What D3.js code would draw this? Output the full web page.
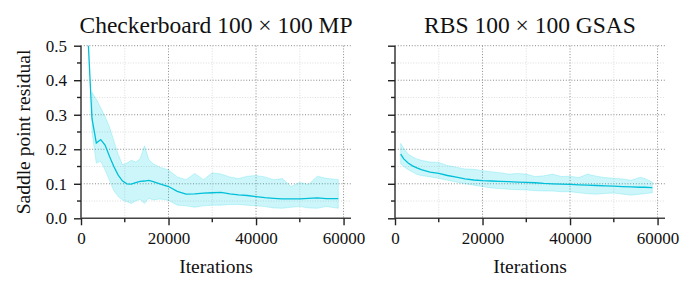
<!DOCTYPE html>
<html>
<head>
<meta charset="utf-8">
<script src="https://cdn.jsdelivr.net/npm/d3@7"></script>
<style>
  body { margin: 0; background: #fff; }
  svg text { font-family: "Liberation Serif", "DejaVu Serif", serif !important; fill: #111; }
</style>
</head>
<body>
<div id="chart"></div>
<script>
// data
const titles = ['Checkerboard 100 \u00d7 100 MP', 'RBS 100 \u00d7 100 GSAS'];
const xTicks = [0, 20000, 40000, 60000];
const yTicks = [0.0, 0.1, 0.2, 0.3, 0.4, 0.5];

const itersA = [1500, 2500, 3500, 4500, 5500, 6500, 7500, 8500, 9500, 10500, 11500, 12500,
  13500, 14500, 15500, 16500, 18000, 20000, 22000, 24000, 26000, 28000, 30000, 32000, 34000,
  36000, 38000, 40000, 42000, 44000, 46000, 48000, 50000, 52000, 54000, 56000, 58800];
const meanA = [0.55, 0.29, 0.218, 0.228, 0.212, 0.18, 0.15, 0.125, 0.108, 0.100, 0.099, 0.103,
  0.107, 0.108, 0.110, 0.106, 0.100, 0.092, 0.078, 0.070, 0.071, 0.073, 0.074, 0.075, 0.071,
  0.068, 0.066, 0.063, 0.060, 0.058, 0.056, 0.056, 0.056, 0.058, 0.059, 0.057, 0.057];
const upperA = [null, 0.365, 0.345, 0.32, 0.295, 0.265, 0.225, 0.185, 0.155, 0.16, 0.168, 0.163,
  0.172, 0.21, 0.17, 0.158, 0.148, 0.14, 0.12, 0.112, 0.13, 0.112, 0.132, 0.128, 0.12,
  0.115, 0.122, 0.124, 0.12, 0.112, 0.115, 0.092, 0.104, 0.098, 0.122, 0.116, 0.112];
const lowerA = [null, 0.25, 0.16, 0.165, 0.14, 0.11, 0.08, 0.063, 0.053, 0.048, 0.043, 0.05,
  0.055, 0.043, 0.058, 0.053, 0.056, 0.052, 0.038, 0.036, 0.032, 0.036, 0.038, 0.038, 0.04,
  0.04, 0.038, 0.036, 0.034, 0.03, 0.029, 0.032, 0.034, 0.03, 0.029, 0.034, 0.029];

const itersB = [1300, 2000, 3000, 4000, 5000, 6000, 8000, 10000, 12000, 14000, 16000, 18000,
  20000, 22000, 24000, 26000, 28000, 30000, 32000, 34000, 36000, 38000, 40000, 42000, 44000,
  46000, 48000, 50000, 52000, 54000, 56000, 57000, 58800];
const meanB = [0.186, 0.172, 0.160, 0.152, 0.146, 0.141, 0.134, 0.130, 0.124, 0.119, 0.114, 0.111,
  0.109, 0.108, 0.107, 0.106, 0.105, 0.104, 0.103, 0.101, 0.100, 0.099, 0.098, 0.097, 0.096,
  0.095, 0.094, 0.093, 0.092, 0.091, 0.090, 0.090, 0.089];
const upperB = [0.217, 0.203, 0.186, 0.178, 0.172, 0.168, 0.163, 0.162, 0.153, 0.148, 0.143, 0.142,
  0.138, 0.135, 0.132, 0.128, 0.130, 0.128, 0.121, 0.123, 0.128, 0.121, 0.122, 0.118, 0.128,
  0.122, 0.118, 0.116, 0.114, 0.110, 0.119, 0.116, 0.105];
const lowerB = [0.158, 0.150, 0.141, 0.134, 0.127, 0.124, 0.120, 0.116, 0.110, 0.105, 0.100, 0.096,
  0.092, 0.088, 0.086, 0.084, 0.083, 0.082, 0.080, 0.079, 0.079, 0.077, 0.077, 0.074, 0.071,
  0.070, 0.072, 0.073, 0.070, 0.067, 0.070, 0.071, 0.074];

const width = 696, height = 293;
const plotTop = 45.7, plotBottom = 218.3;
const panels = [
  { left: 81, right: 351, iters: itersA, mean: meanA, upper: upperA, lower: lowerA, showY: true },
  { left: 395, right: 665, iters: itersB, mean: meanB, upper: upperB, lower: lowerB, showY: false }
];

const lineColor = '#00bfd8';
const fillColor = '#00d4e8';

const svg = d3.select('#chart').append('svg')
  .attr('width', width)
  .attr('height', height);

const y = d3.scaleLinear().domain([0, 0.5]).range([plotBottom, plotTop]);
const yMinor = [0.05, 0.15, 0.25, 0.35, 0.45];
const xMinor = [10000, 30000, 50000];

panels.forEach((p, i) => {
  const x = d3.scaleLinear().domain([0, 61700]).range([p.left, p.right]);
  const g = svg.append('g');

  const clipId = 'clip' + i;
  g.append('clipPath').attr('id', clipId)
    .append('rect')
    .attr('x', p.left).attr('y', plotTop)
    .attr('width', p.right - p.left).attr('height', plotBottom - plotTop);

  // minor grid
  g.selectAll('.vminor').data(xMinor).enter().append('line')
    .attr('x1', d => x(d)).attr('x2', d => x(d))
    .attr('y1', plotTop).attr('y2', plotBottom)
    .attr('stroke', '#d4d4d4').attr('stroke-width', 0.8)
    .attr('stroke-dasharray', '1,1.6');
  g.selectAll('.hminor').data(yMinor).enter().append('line')
    .attr('x1', p.left).attr('x2', p.right)
    .attr('y1', d => y(d)).attr('y2', d => y(d))
    .attr('stroke', '#d4d4d4').attr('stroke-width', 0.8)
    .attr('stroke-dasharray', '1,1.6');

  // major grid
  g.selectAll('.vmajor').data(xTicks.slice(1)).enter().append('line')
    .attr('x1', d => x(d)).attr('x2', d => x(d))
    .attr('y1', plotTop).attr('y2', plotBottom)
    .attr('stroke', '#8a8a8a').attr('stroke-width', 1)
    .attr('stroke-dasharray', '1,1.8');
  g.selectAll('.hmajor').data(yTicks.slice(1)).enter().append('line')
    .attr('x1', p.left).attr('x2', p.right)
    .attr('y1', d => y(d)).attr('y2', d => y(d))
    .attr('stroke', '#8a8a8a').attr('stroke-width', 1)
    .attr('stroke-dasharray', '1,1.8');

  const rows = p.iters.map((it, k) => ({ it: it, m: p.mean[k], lo: p.lower[k], hi: p.upper[k] }));

  const area = d3.area()
    .defined(d => d.lo != null && d.hi != null)
    .x(d => x(d.it))
    .y0(d => y(d.lo))
    .y1(d => y(d.hi));

  const line = d3.line()
    .x(d => x(d.it))
    .y(d => y(d.m));

  const plot = g.append('g').attr('clip-path', 'url(#' + clipId + ')');
  plot.append('path')
    .datum(rows)
    .attr('d', area)
    .attr('fill', fillColor)
    .attr('fill-opacity', 0.2)
    .attr('stroke', fillColor)
    .attr('stroke-opacity', 0.2)
    .attr('stroke-width', 1);
  plot.append('path')
    .datum(rows)
    .attr('d', line)
    .attr('fill', 'none')
    .attr('stroke', lineColor)
    .attr('stroke-width', 1.3);

  // axes
  const xAxis = d3.axisBottom(x).tickValues(xTicks).tickSize(7).tickPadding(7).tickFormat(d3.format('d'));
  const xg = g.append('g').attr('transform', 'translate(0,' + plotBottom + ')').call(xAxis);
  xg.append('g').selectAll('line').data(xMinor).enter().append('line')
    .attr('x1', d => x(d)).attr('x2', d => x(d))
    .attr('y1', 0).attr('y2', 4)
    .attr('stroke', '#222').attr('stroke-width', 1.4);

  const yAxis = d3.axisLeft(y).tickValues(yTicks).tickSize(7).tickPadding(7)
    .tickFormat(p.showY ? d3.format('.1f') : '');
  const yg = g.append('g').attr('transform', 'translate(' + p.left + ',0)').call(yAxis);
  yg.append('g').selectAll('line').data(yMinor).enter().append('line')
    .attr('x1', -4).attr('x2', 0)
    .attr('y1', d => y(d)).attr('y2', d => y(d))
    .attr('stroke', '#222').attr('stroke-width', 1.4);

  [xg, yg].forEach(a => {
    a.attr('font-family', null).attr('font-size', 17);
    a.select('.domain').attr('stroke', '#444').attr('stroke-width', 1.6);
    a.selectAll('.tick line').attr('stroke', '#222').attr('stroke-width', 1.4);
    a.selectAll('.tick text').style('font-size', '17px');
  });
  xg.select('.domain').attr('d', 'M' + p.left + ',0H' + p.right);
  yg.select('.domain').attr('d', 'M0,' + plotBottom + 'V' + plotTop);

  // title and x label
  const cx = (p.left + p.right) / 2;
  g.append('text')
    .attr('x', cx).attr('y', 33)
    .attr('text-anchor', 'middle')
    .style('font-size', '23.5px')
    .text(titles[i]);
  g.append('text')
    .attr('x', cx).attr('y', 272.5)
    .attr('text-anchor', 'middle')
    .style('font-size', '19.5px')
    .text('Iterations');
});

svg.append('text')
  .attr('transform', 'translate(30,' + ((plotTop + plotBottom) / 2) + ') rotate(-90)')
  .attr('text-anchor', 'middle')
  .style('font-size', '19.5px')
  .text('Saddle point residual');
</script>
</body>
</html>
